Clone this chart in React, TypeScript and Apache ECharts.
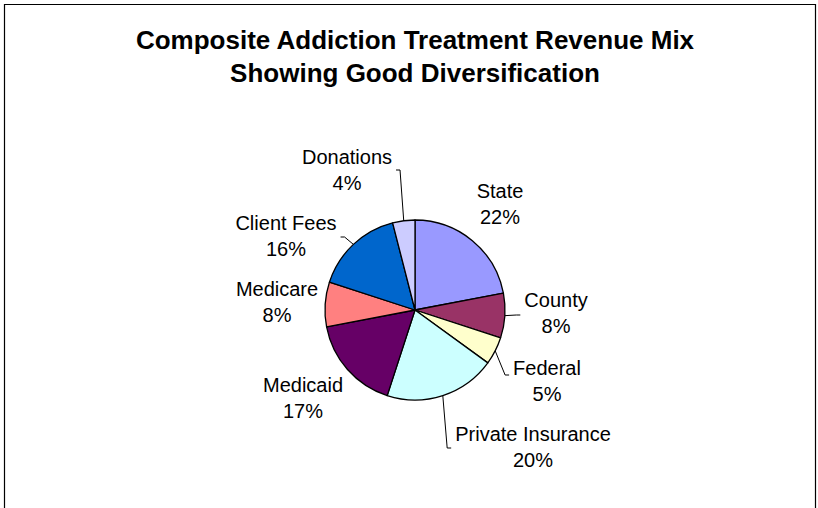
import React, { useEffect, useRef } from "react";
import * as echarts from "echarts";

// ---- Data ----
const categories = [
  "State",
  "County",
  "Federal",
  "Private Insurance",
  "Medicaid",
  "Medicare",
  "Client Fees",
  "Donations",
];
const shares = [22, 8, 5, 20, 17, 8, 16, 4];
const sliceColors = [
  "#9999FF",
  "#993366",
  "#FFFFCC",
  "#CCFFFF",
  "#660066",
  "#FF8080",
  "#0066CC",
  "#CCCCFF",
];
const titleLines = [
  "Composite Addiction Treatment Revenue Mix",
  "Showing Good Diversification",
];

// ---- Label layout (presentation only) ----
type Place = { x: number; y: number; lineY?: number; side?: "left" | "right" };
const labelPlace: Record<string, Place> = {
  State: { x: 500, y: 204 },
  County: { x: 556, y: 313, lineY: 315, side: "right" },
  Federal: { x: 547, y: 381, lineY: 375, side: "right" },
  "Private Insurance": { x: 533, y: 447, lineY: 448, side: "right" },
  Medicaid: { x: 303, y: 398 },
  Medicare: { x: 277, y: 302 },
  "Client Fees": { x: 286, y: 236, lineY: 237, side: "left" },
  Donations: { x: 347, y: 170, lineY: 170, side: "left" },
};

const FONT = "'Liberation Sans', Arial, Helvetica, sans-serif";

export default function App() {
  const ref = useRef<HTMLDivElement>(null);

  useEffect(() => {
    if (!ref.current) return;
    const chart = echarts.init(ref.current, undefined, { renderer: "svg" });

    const data = categories.map((name, i) => ({
      name,
      value: shares[i],
      itemStyle: { color: sliceColors[i] },
      labelLine: { show: !!labelPlace[name].side },
    }));

    chart.setOption({
      animation: false,
      backgroundColor: "#ffffff",
      title: {
        text: titleLines.join("\n"),
        left: 415,
        top: 23,
        textAlign: "center",
        padding: 0,
        textStyle: {
          fontFamily: FONT,
          fontWeight: "bold",
          fontSize: 26,
          lineHeight: 33,
          color: "#000",
        },
      },
      graphic: [
        {
          type: "rect",
          silent: true,
          shape: { x: 4.5, y: 4.5, width: 811, height: 530 },
          style: { fill: "none", stroke: "#000", lineWidth: 1.2 },
        },
      ],
      series: [
        {
          type: "pie",
          center: [415, 310],
          radius: 90,
          startAngle: 90,
          clockwise: true,
          avoidLabelOverlap: false,
          data,
          itemStyle: { borderColor: "#000", borderWidth: 1.3 },
          label: {
            show: true,
            position: "outside",
            formatter: (p: any) => `${p.name}\n${Math.round(p.percent)}%`,
            fontFamily: FONT,
            fontSize: 20,
            lineHeight: 26,
            color: "#000",
          },
          labelLine: {
            show: true,
            length: 10,
            length2: 5,
            smooth: false,
            lineStyle: { color: "#000", width: 1 },
          },
          labelLayout: (params: any) => {
            const name = categories[params.dataIndex];
            const pl = labelPlace[name];
            const out: any = {
              x: pl.x,
              y: pl.y,
              align: "center",
              verticalAlign: "middle",
            };
            if (pl.side && params.labelLinePoints && params.labelLinePoints.length) {
              const start = params.labelLinePoints[0];
              const w = params.labelRect ? params.labelRect.width : 0;
              let qx: number, px: number;
              if (pl.side === "right") {
                qx = pl.x - w / 2 - 4;
                px = qx - 4;
              } else {
                qx = pl.x + w / 2 + 4;
                px = qx + 4;
              }
              out.labelLinePoints = [
                [start[0], start[1]],
                [px, pl.lineY],
                [qx, pl.lineY],
              ];
            }
            return out;
          },
        },
      ],
    });

    return () => chart.dispose();
  }, []);

  return (
    <div
      ref={ref}
      style={{ position: "fixed", left: 0, top: 0, width: 818, height: 508 }}
    />
  );
}
